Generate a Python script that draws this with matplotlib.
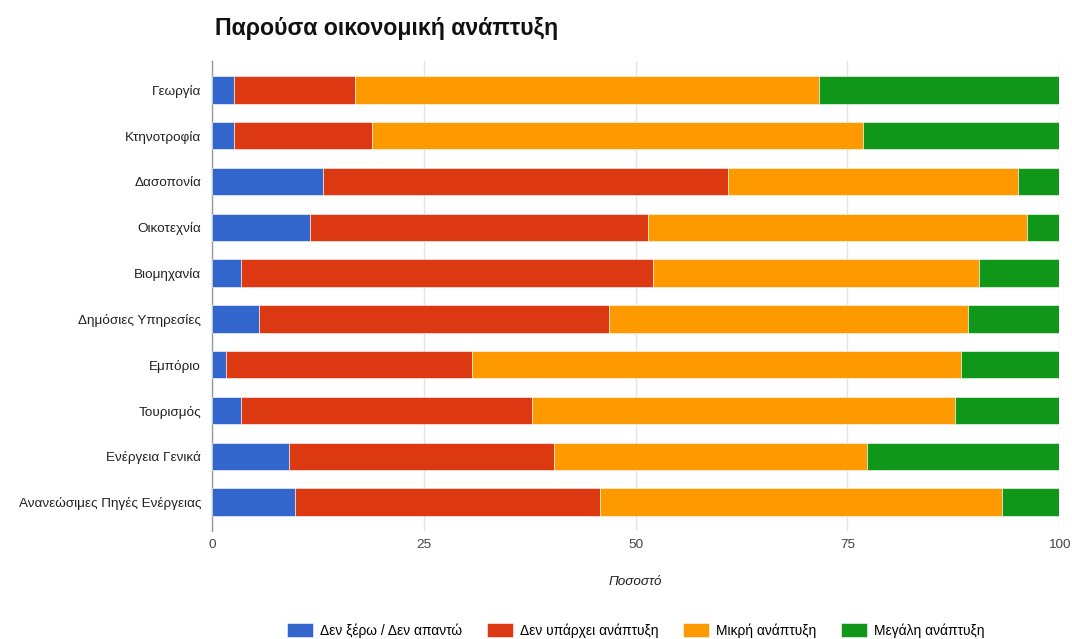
import numpy as np
import matplotlib
matplotlib.use("Agg")
import matplotlib.pyplot as plt

plt.rcParams['font.family'] = ['Liberation Sans', 'DejaVu Sans']

categories = ["Γεωργία", "Κτηνοτροφία", "Δασοπονία", "Οικοτεχνία", "Βιομηχανία",
              "Δημόσιες Υπηρεσίες", "Εμπόριο", "Τουρισμός", "Ενέργεια Γενικά",
              "Ανανεώσιμες Πηγές Ενέργειας"]
series_names = ["Δεν ξέρω / Δεν απαντώ", "Δεν υπάρχει ανάπτυξη",
                "Μικρή ανάπτυξη", "Μεγάλη ανάπτυξη"]
dont_know = [2.6, 2.6, 13.1, 11.6, 3.4, 5.5, 1.6, 3.4, 9.1, 9.8]
no_growth = [14.3, 16.3, 47.8, 39.9, 48.7, 41.3, 29.1, 34.4, 31.3, 36.0]
small_growth = [54.8, 57.9, 34.2, 44.7, 38.4, 42.4, 57.7, 49.9, 36.9, 47.5]
big_growth = [28.3, 23.2, 4.9, 3.8, 9.5, 10.8, 11.6, 12.3, 22.7, 6.7]
xticks = [0, 25, 50, 75, 100]

colors = ["#3366cc", "#dc3912", "#ff9900", "#109618"]

fig = plt.figure(figsize=(10.72, 6.39), dpi=100)
ax = fig.add_axes([0.198, 0.169, 0.79, 0.7355])

y = np.arange(len(categories))
left = np.zeros(len(categories))
handles = []
for name, vals, c in zip(series_names, [dont_know, no_growth, small_growth, big_growth], colors):
    vals = np.array(vals)
    h = ax.barh(y, vals, left=left, height=0.6, color=c, edgecolor="white",
                linewidth=0.4, label=name, zorder=3)
    handles.append(h)
    left += vals

ax.set_xlim(0, 100)
ax.set_ylim(len(categories) - 0.37, -0.63)
ax.set_yticks(y)
ax.set_yticklabels(categories, fontsize=9.7, color="#222222")
ax.set_xticks(xticks)
ax.set_xticklabels([str(t) for t in xticks], fontsize=9.7, color="#444444")
ax.tick_params(axis="both", length=0)
ax.tick_params(axis="y", pad=8)
ax.tick_params(axis="x", pad=6)
ax.grid(axis="x", color="#e4e4e4", linewidth=1, zorder=0)
for s in ["top", "right", "bottom"]:
    ax.spines[s].set_visible(False)
ax.spines["left"].set_color("#999999")
ax.spines["left"].set_linewidth(1)

ax.set_xlabel("Ποσοστό", fontsize=9.7, style="italic", color="#222222", labelpad=18)

fig.text(0.2005, 0.955, "Παρούσα οικονομική ανάπτυξη", fontsize=16.7, fontweight="bold",
         color="#111111", va="center", ha="left")

fig.legend(handles=handles, labels=series_names, loc="center", ncol=4,
           bbox_to_anchor=(0.593, 0.014), frameon=False, fontsize=9.9,
           handlelength=1.9, handleheight=1.3, handletextpad=0.5, columnspacing=1.8)

fig.savefig("out.png", dpi=100)
